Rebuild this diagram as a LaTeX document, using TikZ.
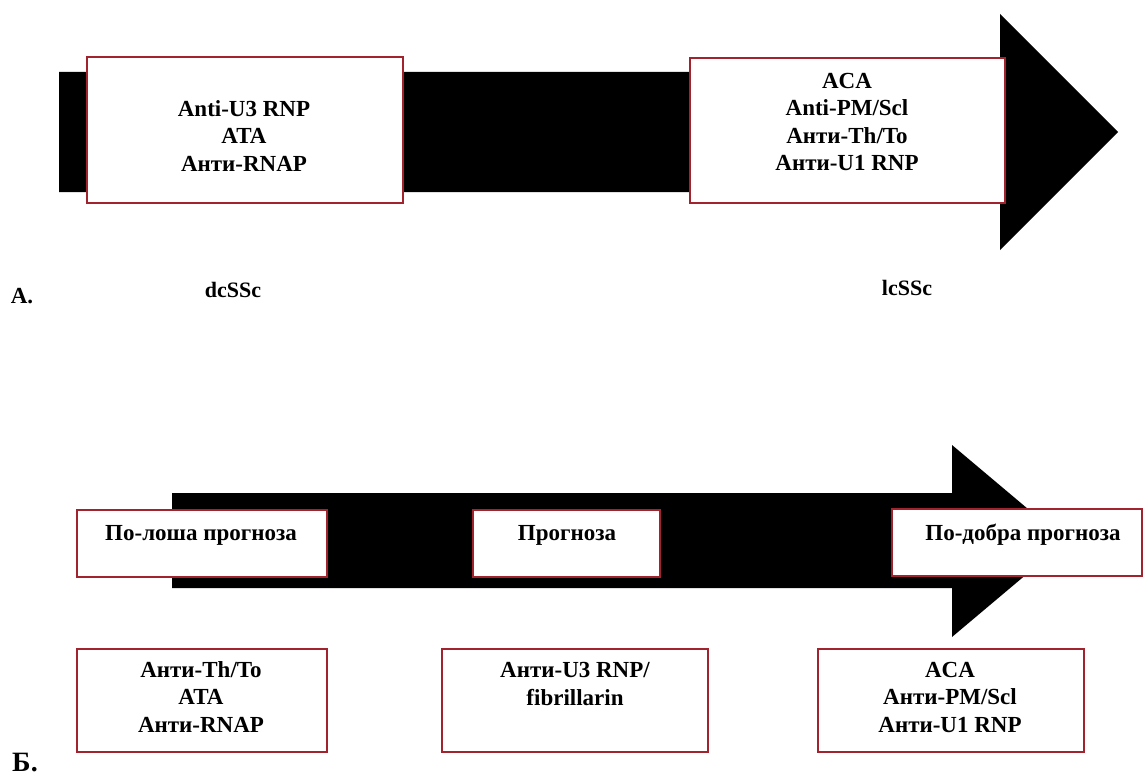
\documentclass[tikz,border=0pt]{standalone}
\usepackage{fontspec}
\setmainfont{Liberation Serif}
\definecolor{boxred}{RGB}{160,35,45}
\begin{document}
\begin{tikzpicture}[x=1pt,y=-1pt,
  box/.style={draw=boxred,line width=1.4pt,fill=white,inner sep=0pt,rectangle},
  txt/.style={font=\bfseries\fontsize{23}{27.5}\selectfont,align=center,inner sep=0pt},
  lbl/.style={font=\bfseries\fontsize{22}{25}\selectfont,inner sep=0pt}]
\useasboundingbox (0,0) rectangle (1144,776);
% ---- A: top arrow
\fill[black] (59,72) -- (1000,72) -- (1000,14) -- (1118,132) -- (1000,250) -- (1000,192) -- (59,192) -- cycle;
\node[box,minimum width=316pt,minimum height=146pt] (a1) at (245,130) {};
\node[txt] (a1t) at (244,136) {Anti-U3 RNP\\ATA\\Анти-RNAP};
\node[box,minimum width=315pt,minimum height=145pt] (a2) at (847.5,130.5) {};
\node[txt] (a2t) at (847,122) {ACA\\Anti-PM/Scl\\Анти-Th/To\\Анти-U1 RNP};
\node[lbl] (dc) at (233,290) {dcSSc};
\node[lbl] (lc) at (907,288) {lcSSc};
\node[font=\bfseries\fontsize{23}{25}\selectfont,inner sep=0pt] (labA) at (22,296) {A.};
% ---- Б: bottom arrow
\fill[black] (172,493) -- (952,493) -- (952,445) -- (1066,541) -- (952,637) -- (952,588) -- (172,588) -- cycle;
\node[box,minimum width=250pt,minimum height=67pt] (b1) at (202,543.5) {};
\node[txt] (b1t) at (201,535) {По-лоша прогноза};
\node[box,minimum width=187pt,minimum height=67pt] (b2) at (566.5,543.5) {};
\node[txt] (b2t) at (567,535) {Прогноза};
\node[box,minimum width=250pt,minimum height=67pt] (b3) at (1017,542.5) {};
\node[txt] (b3t) at (1023,535) {По-добра прогноза};
\node[box,minimum width=250pt,minimum height=103pt] (c1) at (202,700.5) {};
\node[txt] (c1t) at (201,697) {Анти-Th/To\\ATA\\Анти-RNAP};
\node[box,minimum width=266pt,minimum height=103pt] (c2) at (575,700.5) {};
\node[txt] (c2t) at (575,684) {Анти-U3 RNP/\\fibrillarin};
\node[box,minimum width=266pt,minimum height=103pt] (c3) at (951,700.5) {};
\node[txt] (c3t) at (950,697) {ACA\\Анти-PM/Scl\\Анти-U1 RNP};
\node[font=\bfseries\fontsize{28}{30}\selectfont,inner sep=0pt] (labB) at (25,763) {Б.};
\end{tikzpicture}
\end{document}
